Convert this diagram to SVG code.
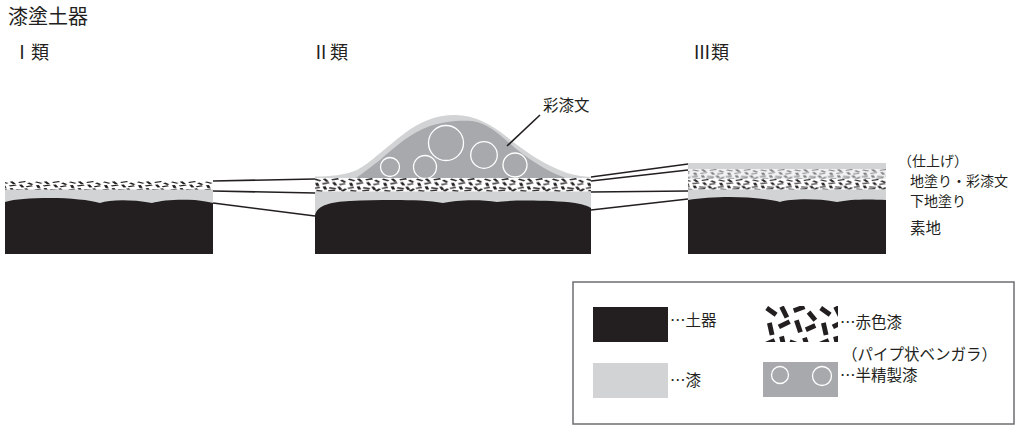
<svg xmlns="http://www.w3.org/2000/svg" xmlns:xlink="http://www.w3.org/1999/xlink" width="1036" height="433" viewBox="0 0 1036 433">
  <style>
    text { font-family: "Noto Sans CJK JP", "Noto Sans", sans-serif; fill: #231f20; }
    .title { font-size: 20px; }
    .cls { font-size: 18px; }
    .lbl { font-size: 15.5px; }
    .side { font-size: 14px; }
    .clay { fill: #231f20; }
    .lacq { fill: #d1d3d4; }
    .semi { fill: #a7a9ac; }
    .bubble { fill: none; stroke: #ffffff; stroke-width: 1.3; }
    .conn line { stroke: #231f20; stroke-width: 1.6; }
  </style>
  <defs>
    <!-- short pipe-shaped particles of red ochre lacquer -->
    <g id="ds" stroke-width="3.6" stroke-linecap="butt">
      <line x1="2" y1="3" x2="9" y2="8"/>
      <line x1="13" y1="2" x2="17" y2="10"/>
      <line x1="22" y1="5" x2="30" y2="2"/>
      <line x1="33" y1="6" x2="38" y2="12"/>
      <line x1="4" y1="14" x2="6" y2="23"/>
      <line x1="11" y1="17" x2="19" y2="13"/>
      <line x1="24" y1="12" x2="27" y2="21"/>
      <line x1="31" y1="19" x2="38" y2="16"/>
      <line x1="1" y1="30" x2="8" y2="27"/>
      <line x1="13" y1="24" x2="15" y2="33"/>
      <line x1="19" y1="28" x2="27" y2="31"/>
      <line x1="30" y1="25" x2="33" y2="34"/>
      <line x1="4" y1="36" x2="11" y2="38"/>
      <line x1="18" y1="37" x2="26" y2="35"/>
      <line x1="34" y1="38" x2="39" y2="31"/>
    </g>
    <pattern id="redLegend" patternUnits="userSpaceOnUse" width="40" height="40" patternTransform="translate(764 304) scale(1.35)">
      <rect width="40" height="40" fill="#ffffff"/>
      <use href="#ds" stroke="#231f20"/>
    </pattern>
    <pattern id="redA" patternUnits="userSpaceOnUse" width="40" height="40" patternTransform="translate(0 181) scale(0.85 0.3)">
      <rect width="40" height="40" fill="#ffffff"/>
      <use href="#ds" stroke="#231f20"/>
    </pattern>
    <pattern id="redB" patternUnits="userSpaceOnUse" width="40" height="40" patternTransform="translate(7 178) scale(0.85 0.35)">
      <rect width="40" height="40" fill="#ffffff"/>
      <use href="#ds" stroke="#231f20"/>
    </pattern>
    <pattern id="redC" patternUnits="userSpaceOnUse" width="40" height="40" patternTransform="translate(3 179) scale(0.85 0.28)">
      <rect width="40" height="40" fill="#ffffff"/>
      <use href="#ds" stroke="#231f20"/>
    </pattern>
    <pattern id="greyC" patternUnits="userSpaceOnUse" width="40" height="40" patternTransform="translate(11 169) scale(0.85 0.26)">
      <rect width="40" height="40" fill="#f1f1f2"/>
      <use href="#ds" stroke="#808285"/>
    </pattern>
  </defs>

  <rect width="1036" height="433" fill="#ffffff"/>

  <text class="title" x="8" y="24">漆塗土器</text>
  <text class="cls" x="13" y="59">Ⅰ類</text>
  <text class="cls" x="312" y="59">Ⅱ類</text>
  <text class="cls" x="693" y="59">Ⅲ類</text>

  <!-- Type I section -->
  <g id="typeI">
    <rect x="5" y="181" width="208" height="9" fill="url(#redA)"/>
    <rect class="lacq" x="5" y="189.5" width="208" height="15"/>
    <path class="clay" d="M5,202 C15,199 30,198 50,198 C70,198 90,200 100,203 C110,200 128,199 152,203 C162,200 178,199 195,200 C203,201 209,202 213,203 L213,254 L5,254 Z"/>
  </g>

  <!-- Type II section -->
  <g id="typeII">
    <path class="lacq" d="M315,179 L315,176.5 C330,176.5 345,175 357,170 C370,163 385,148 405,133 C420,122 435,115 455,115 C475,115 492,125 507,137 C525,152 545,165 567,173 C575,175.5 583,176.5 591,177 L591,179 Z"/>
    <path class="semi" d="M355,178.5 C365,172 372,166 380,160 C395,147 410,133 430,126 C445,121 460,120 472,121 C488,123 500,135 515,148 C530,160 548,172 567,178.5 Z"/>
    <circle class="bubble" cx="390" cy="167" r="9.5"/>
    <circle class="bubble" cx="425" cy="167" r="11.5"/>
    <circle class="bubble" cx="446" cy="143" r="17.5"/>
    <circle class="bubble" cx="484" cy="155" r="13.3"/>
    <circle class="bubble" cx="515" cy="165" r="12"/>
    <rect x="315" y="178" width="276" height="14" fill="url(#redB)"/>
    <rect class="lacq" x="315" y="191.5" width="276" height="25"/>
    <path class="clay" d="M315,215 C318,205 330,202 350,201 C380,200 420,199 443,203 C455,200 480,199 497,202 C510,200 550,200 575,203 C582,204 588,206 591,208 L591,254 L315,254 Z"/>
  </g>

  <!-- Type III section -->
  <g id="typeIII">
    <rect class="lacq" x="688" y="163" width="198" height="6"/>
    <rect x="688" y="169" width="198" height="10" fill="url(#greyC)"/>
    <rect x="688" y="179" width="198" height="11" fill="url(#redC)"/>
    <rect class="lacq" x="688" y="189.5" width="198" height="14"/>
    <path class="clay" d="M688,200 C700,198 715,197 730,197 C750,197 770,199 780,202 C790,199 815,198 837,202 C850,199 870,199 886,200 L886,254 L688,254 Z"/>
  </g>

  <!-- layer links between sections -->
  <g id="connectors" class="conn">
    <line x1="213" y1="181" x2="315" y2="179"/>
    <line x1="213" y1="191" x2="315" y2="193"/>
    <line x1="213" y1="203" x2="315" y2="216"/>
    <line x1="591" y1="177" x2="688" y2="164"/>
    <line x1="591" y1="181" x2="688" y2="170"/>
    <line x1="591" y1="192" x2="688" y2="191"/>
    <line x1="591" y1="210" x2="688" y2="199"/>
    <line x1="540" y1="115" x2="507" y2="146"/>
  </g>

  <g id="labels">
    <text class="lbl" x="543" y="111">彩漆文</text>
    <text class="side" x="898" y="165.5">（仕上げ）</text>
    <text class="side" x="910" y="185.5">地塗り・彩漆文</text>
    <text class="side" x="910" y="205.5">下地塗り</text>
    <text class="lbl" x="910" y="233.5">素地</text>
  </g>

  <!-- legend -->
  <g id="legend">
    <rect x="573" y="282" width="441" height="142" fill="none" stroke="#6d6e71" stroke-width="1.5"/>
    <rect class="clay" x="593" y="307" width="75" height="35"/>
    <text class="lbl" x="670" y="326">…土器</text>
    <rect class="lacq" x="593" y="363" width="75" height="35"/>
    <text class="lbl" x="670" y="386">…漆</text>
    <rect x="765" y="306" width="73" height="36" fill="url(#redLegend)"/>
    <text class="lbl" x="840" y="328">…赤色漆</text>
    <text class="lbl" x="842" y="360">（パイプ状ベンガラ）</text>
    <rect class="semi" x="763" y="362" width="75" height="35"/>
    <circle class="bubble" cx="780" cy="375" r="8.5"/>
    <circle class="bubble" cx="822" cy="376" r="9.5"/>
    <text class="lbl" x="840" y="381">…半精製漆</text>
  </g>
</svg>
